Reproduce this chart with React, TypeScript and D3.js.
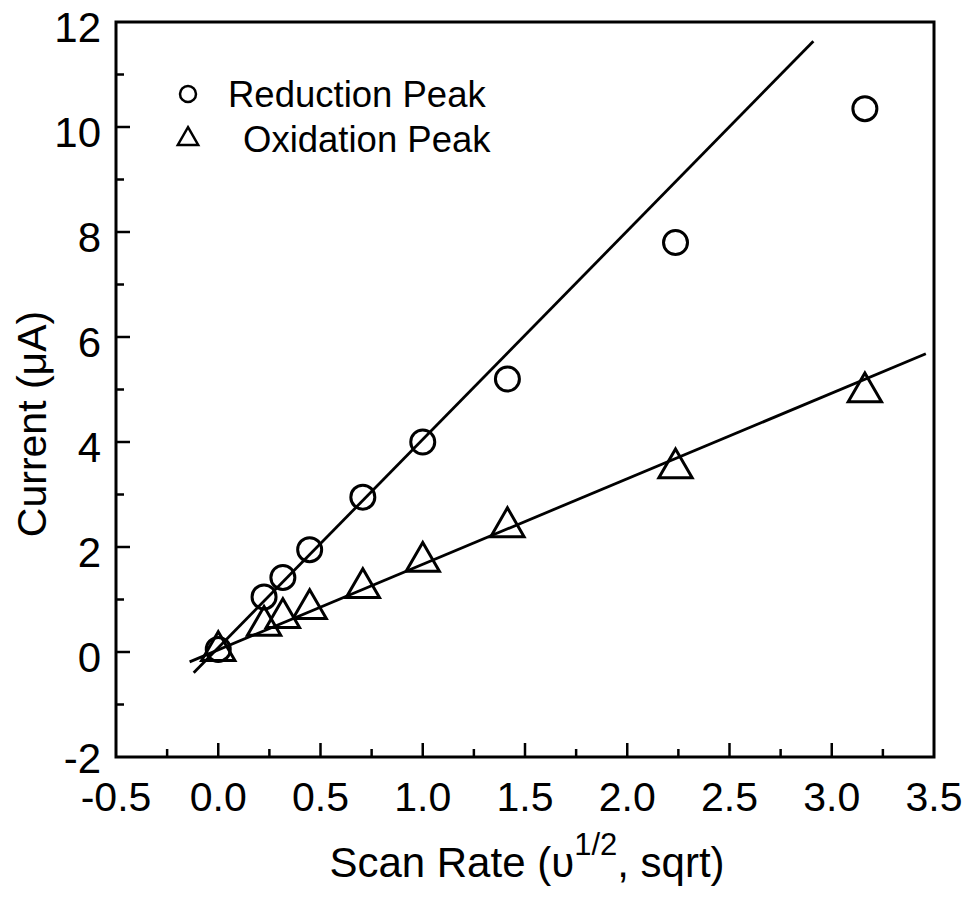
import React, { useRef, useEffect } from 'react'
import { select, scaleLinear, line, symbol, symbolTriangle, range } from 'd3'

// scan rate (sqrt) values
const scanRate = [0, 0.224, 0.316, 0.447, 0.707, 1.0, 1.414, 2.236, 3.162]
const reductionPeak = [0.05, 1.05, 1.42, 1.95, 2.95, 4.0, 5.2, 7.8, 10.35]
const oxidationPeak = [0.02, 0.5, 0.65, 0.82, 1.22, 1.72, 2.38, 3.5, 4.95]

// linear fits: [slope, intercept, xStart, xEnd]
const reductionFit = [3.97, 0.08, -0.12, 2.91]
const oxidationFit = [1.63, 0.04, -0.14, 3.46]

const xTicks = [-0.5, 0, 0.5, 1, 1.5, 2, 2.5, 3, 3.5]
const yTicks = [-2, 0, 2, 4, 6, 8, 10, 12]

const legendLabels = ['Reduction Peak', 'Oxidation Peak']

const W = 972
const H = 909
const FONT = 'Liberation Sans, Arial, sans-serif'

const App = () => {
    const ref = useRef<any>()

    useEffect(() => {
        document.body.style.margin = '0'
        const svg = select(ref.current)
        svg.selectAll('*').remove()

        const x = scaleLinear().domain([-0.5, 3.5]).range([116, 934])
        const y = scaleLinear().domain([-2, 12]).range([757, 22])

        // frame
        svg.append('rect')
            .attr('x', x(-0.5)).attr('y', y(12))
            .attr('width', x(3.5) - x(-0.5)).attr('height', y(-2) - y(12))
            .attr('fill', 'none').attr('stroke', '#000').attr('stroke-width', 3)

        // x ticks (inward)
        range(-0.25, 3.5, 0.25).forEach(v => {
            const major = Math.abs(v * 2 - Math.round(v * 2)) < 1e-6
            svg.append('line')
                .attr('x1', x(v)).attr('x2', x(v))
                .attr('y1', y(-2)).attr('y2', y(-2) - (major ? 14 : 8))
                .attr('stroke', '#000').attr('stroke-width', 2.5)
        })
        xTicks.forEach(v => {
            svg.append('text')
                .attr('x', x(v)).attr('y', 811)
                .attr('text-anchor', 'middle')
                .attr('font-family', FONT).attr('font-size', 41)
                .text(v.toFixed(1))
        })

        // y ticks (inward)
        range(-1, 12, 1).forEach(v => {
            const major = v % 2 === 0
            svg.append('line')
                .attr('x1', x(-0.5)).attr('x2', x(-0.5) + (major ? 14 : 8))
                .attr('y1', y(v)).attr('y2', y(v))
                .attr('stroke', '#000').attr('stroke-width', 2.5)
        })
        yTicks.forEach(v => {
            svg.append('text')
                .attr('x', 101).attr('y', y(v) + (v === -2 ? 16 : 20))
                .attr('text-anchor', 'end')
                .attr('font-family', FONT).attr('font-size', 42)
                .text(String(v))
        })

        // axis titles
        const xt = svg.append('text')
            .attr('x', 527).attr('y', 877)
            .attr('text-anchor', 'middle')
            .attr('font-family', FONT).attr('font-size', 42)
        xt.append('tspan').text('Scan Rate (\u03c5')
        xt.append('tspan').attr('font-size', 31).attr('dy', -22).text('1/2')
        xt.append('tspan').attr('dy', 22).text(', sqrt)')

        svg.append('text')
            .attr('transform', 'translate(46, 424) rotate(-90)')
            .attr('text-anchor', 'middle')
            .attr('font-family', FONT).attr('font-size', 41)
            .text('Current (\u03bcA)')

        // fit lines
        const lineGen = line<number[]>().x(d => x(d[0])).y(d => y(d[1]))
        ;[reductionFit, oxidationFit].forEach(f => {
            const [m, b, x0, x1] = f
            svg.append('path')
                .attr('d', lineGen([[x0, m * x0 + b], [x1, m * x1 + b]]))
                .attr('fill', 'none').attr('stroke', '#000').attr('stroke-width', 2.8)
        })

        // reduction points
        svg.selectAll('.red')
            .data(scanRate.map((s, i) => [s, reductionPeak[i]]))
            .join('circle')
            .attr('class', 'red')
            .attr('cx', d => x(d[0])).attr('cy', d => y(d[1]))
            .attr('r', 12)
            .attr('fill', 'none').attr('stroke', '#000').attr('stroke-width', 3)

        // oxidation points
        const tri = symbol().type(symbolTriangle).size(480)
        svg.selectAll('.ox')
            .data(scanRate.map((s, i) => [s, oxidationPeak[i]]))
            .join('path')
            .attr('class', 'ox')
            .attr('d', tri() as string)
            .attr('transform', d => `translate(${x(d[0])},${y(d[1])})`)
            .attr('fill', 'none').attr('stroke', '#000').attr('stroke-width', 3)

        // legend
        svg.append('circle')
            .attr('cx', 188).attr('cy', 94).attr('r', 8)
            .attr('fill', 'none').attr('stroke', '#000').attr('stroke-width', 2.5)
        svg.append('path')
            .attr('d', symbol().type(symbolTriangle).size(180)() as string)
            .attr('transform', 'translate(188,139)')
            .attr('fill', 'none').attr('stroke', '#000').attr('stroke-width', 2.5)
        svg.append('text')
            .attr('x', 228).attr('y', 107)
            .attr('font-family', FONT).attr('font-size', 36.5)
            .text(legendLabels[0])
        svg.append('text')
            .attr('x', 243).attr('y', 152)
            .attr('font-family', FONT).attr('font-size', 36.5)
            .text(legendLabels[1])
    }, [])

    return <svg ref={ref} width={W} height={H} style={{ display: 'block', background: '#fff' }} />
}

export default App
